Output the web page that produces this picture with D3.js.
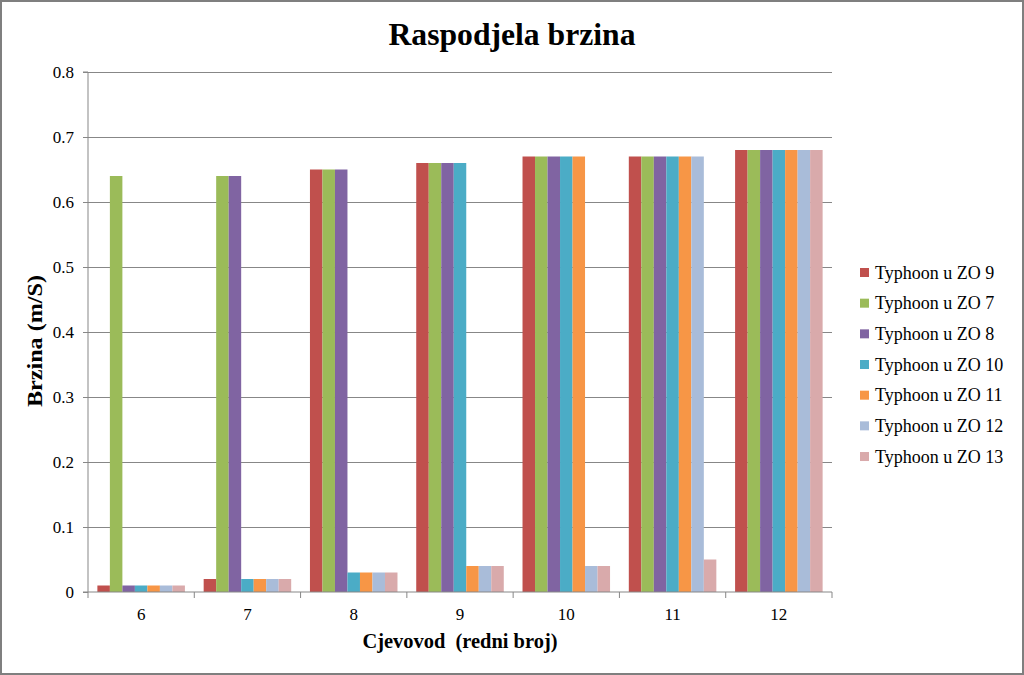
<!DOCTYPE html>
<html>
<head>
<meta charset="utf-8">
<script src="https://cdn.jsdelivr.net/npm/d3@7"></script>
<style>
  html, body { margin: 0; padding: 0; background: #fff; }
  svg { display: block; }
  text { font-family: "Liberation Serif", "Times New Roman", "DejaVu Serif", serif; fill: #000; }
</style>
</head>
<body>
<svg id="chart" width="1024" height="675"></svg>
<script>
const categories = ["6", "7", "8", "9", "10", "11", "12"];
const seriesNames = ["Typhoon u ZO 9", "Typhoon u ZO 7", "Typhoon u ZO 8", "Typhoon u ZO 10", "Typhoon u ZO 11", "Typhoon u ZO 12", "Typhoon u ZO 13"];
const zo9  = [0.01, 0.02, 0.65, 0.66, 0.67, 0.67, 0.68];
const zo7  = [0.64, 0.64, 0.65, 0.66, 0.67, 0.67, 0.68];
const zo8  = [0.01, 0.64, 0.65, 0.66, 0.67, 0.67, 0.68];
const zo10 = [0.01, 0.02, 0.03, 0.66, 0.67, 0.67, 0.68];
const zo11 = [0.01, 0.02, 0.03, 0.04, 0.67, 0.67, 0.68];
const zo12 = [0.01, 0.02, 0.03, 0.04, 0.04, 0.67, 0.68];
const zo13 = [0.01, 0.02, 0.03, 0.04, 0.04, 0.05, 0.68];
const seriesValues = [zo9, zo7, zo8, zo10, zo11, zo12, zo13];
const yTicks = [0, 0.1, 0.2, 0.3, 0.4, 0.5, 0.6, 0.7, 0.8];
const colors = ["#C0504D", "#9BBB59", "#8064A2", "#4BACC6", "#F79646", "#A9BCD9", "#D9AAAB"];

const FONT = '"Liberation Serif", "Times New Roman", "DejaVu Serif", serif';
const svg = d3.select("#chart");
const W = 1024, H = 675;
const plot = { left: 88, right: 832, top: 72, bottom: 592 };

// outer border
svg.append("rect").attr("x", 1).attr("y", 1).attr("width", W - 2).attr("height", H - 2)
  .attr("fill", "#fff").attr("stroke", "#7f7f7f").attr("stroke-width", 2);

const x0 = d3.scaleBand().domain(categories).range([plot.left, plot.right]).paddingInner(0).paddingOuter(0);
const groupFrac = 7 / 8.5;
const x1 = d3.scaleBand().domain(seriesNames).range([0, x0.bandwidth() * groupFrac]).padding(0);
const y = d3.scaleLinear().domain([0, 0.8]).range([plot.bottom, plot.top]);

// gridlines
svg.append("g").selectAll("line").data(yTicks.filter(d => d > 0)).join("line")
  .attr("x1", plot.left).attr("x2", plot.right)
  .attr("y1", d => y(d)).attr("y2", d => y(d))
  .attr("stroke", "#878787").attr("stroke-width", 1).attr("shape-rendering", "crispEdges");

// bars
const groupOffset = (x0.bandwidth() - x0.bandwidth() * groupFrac) / 2;
const g = svg.append("g");
categories.forEach((c, ci) => {
  seriesNames.forEach((s, si) => {
    const v = seriesValues[si][ci];
    g.append("rect")
      .attr("x", x0(c) + groupOffset + x1(s))
      .attr("width", x1.bandwidth())
      .attr("y", y(v))
      .attr("height", y(0) - y(v))
      .attr("fill", colors[si]);
  });
});

// y axis
const yAxis = d3.axisLeft(y).tickValues(yTicks).tickFormat(d => d === 0 ? "0" : d3.format(".1f")(d)).tickSize(5).tickPadding(9);
const yg = svg.append("g").attr("transform", `translate(${plot.left},0)`).call(yAxis)
  .attr("font-family", FONT).attr("font-size", 17);
yg.select(".domain").attr("stroke", "#878787").attr("d", `M-5,${plot.top}H0V${plot.bottom}H-5`);
yg.selectAll(".tick line").attr("stroke", "#878787");
yg.selectAll("text").attr("font-family", FONT).style("font-family", FONT).style("font-size", "17px");

// x axis
const xAxis = d3.axisBottom(x0).tickSize(0).tickPadding(16);
const xg = svg.append("g").attr("transform", `translate(0,${plot.bottom})`).call(xAxis)
  .attr("font-family", FONT).attr("font-size", 17);
xg.select(".domain").attr("stroke", "#878787").attr("d", `M${plot.left},0H${plot.right}`);
xg.selectAll("text").attr("font-family", FONT).style("font-family", FONT).style("font-size", "17px");
// category boundary ticks
xg.append("g").selectAll("line").data(categories.concat(["end"])).join("line")
  .attr("x1", (d, i) => plot.left + i * x0.bandwidth()).attr("x2", (d, i) => plot.left + i * x0.bandwidth())
  .attr("y1", 0).attr("y2", 6).attr("stroke", "#878787");

// title
svg.append("text").attr("x", 512).attr("y", 45).attr("text-anchor", "middle")
  .attr("font-family", FONT)
  .style("font-size", "32px").style("font-weight", "bold")
  .attr("textLength", 247).attr("lengthAdjust", "spacingAndGlyphs")
  .text("Raspodjela brzina");

// axis titles
svg.append("text").attr("x", 460).attr("y", 648).attr("text-anchor", "middle")
  .attr("font-family", FONT)
  .style("font-size", "21px").style("font-weight", "bold").attr("xml:space", "preserve")
  .attr("textLength", 195).attr("lengthAdjust", "spacingAndGlyphs")
  .text("Cjevovod  (redni broj)");
svg.append("text").attr("transform", "translate(42,341) rotate(-90)").attr("text-anchor", "middle")
  .attr("font-family", FONT)
  .style("font-size", "21px").style("font-weight", "bold")
  .attr("textLength", 132).attr("lengthAdjust", "spacingAndGlyphs")
  .text("Brzina (m/S)");

// legend
const lg = svg.append("g");
seriesNames.forEach((s, i) => {
  const yc = 272.5 + i * 30.67;
  lg.append("rect").attr("x", 860).attr("y", yc - 4.5).attr("width", 9).attr("height", 9).attr("fill", colors[i]);
  lg.append("text").attr("x", 875).attr("y", yc + 6).attr("font-family", FONT).style("font-size", "18px").text(s);
});
</script>
</body>
</html>
